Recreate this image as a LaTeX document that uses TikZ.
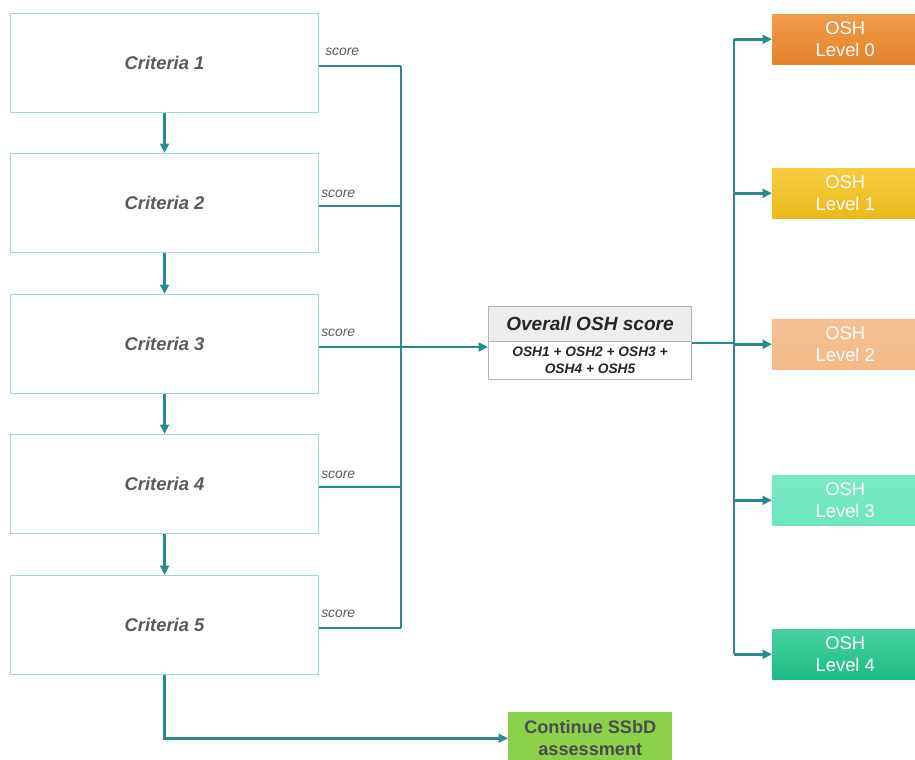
\documentclass[tikz,border=0pt]{standalone}
\usepackage{fontspec}
\setmainfont{Liberation Sans}
\usetikzlibrary{arrows.meta,calc}
\definecolor{teal1}{HTML}{2A8A8E}
\definecolor{critborder}{HTML}{A3D7D9}
\definecolor{txtgray}{HTML}{5A5A5A}
\definecolor{lv0}{HTML}{EF8A2C}
\definecolor{lv1}{HTML}{F6C31C}
\definecolor{lv2}{HTML}{F4BA86}
\definecolor{lv3}{HTML}{6CE6BF}
\definecolor{lv4}{HTML}{1CC689}
\definecolor{contg}{HTML}{8DD04C}
\begin{document}
\begin{tikzpicture}[x=0.75pt,y=-0.75pt,
  crit/.style={draw=critborder,line width=0.8pt,fill=white,minimum width=308*0.75pt,minimum height=99*0.75pt,inner sep=0pt,anchor=north west,text=txtgray,font=\fontsize{13.8}{16}\selectfont\bfseries\itshape},
  conn/.style={draw=teal1,line width=2pt},
  arr/.style={conn,-{Triangle[length=7pt,width=6.5pt]}},
  scorelbl/.style={anchor=south west,inner sep=0pt,text=txtgray,font=\fontsize{10.4}{12}\selectfont\itshape},
  lvl/.style={minimum width=146*0.75pt,minimum height=50*0.75pt,inner sep=0pt,anchor=north west,text=white,align=center,font=\fontsize{13.8}{16.5}\selectfont},
  ovbox/.style={draw=black!30,line width=0.8pt,minimum width=203*0.75pt,inner sep=0pt,anchor=north west,align=center}
]
\useasboundingbox (0,0) rectangle (915,760);
\fill[white] (0,0) rectangle (915,760);
% criteria boxes
\node[crit] (c1) at (10,13) {Criteria 1};
\node[crit] (c2) at (10,153) {Criteria 2};
\node[crit] (c3) at (10,294) {Criteria 3};
\node[crit] (c4) at (10,434) {Criteria 4};
\node[crit] (c5) at (10,575) {Criteria 5};
% vertical arrows between criteria
\draw[arr] (c1.south) -- (c2.north);
\draw[arr] (c2.south) -- (c3.north);
\draw[arr] (c3.south) -- (c4.north);
\draw[arr] (c4.south) -- (c5.north);
% overall box
\node[ovbox,fill=black!7,minimum height=35*0.75pt,font=\fontsize{14.3}{16}\selectfont\bfseries\itshape,text=black!85] (ovh) at (488,306) {Overall OSH score};
\node[ovbox,fill=white,minimum height=38*0.75pt,font=\fontsize{10.3}{12.5}\selectfont\bfseries\itshape,text=black!85] (ovb) at (488,341) {OSH1 + OSH2 + OSH3 +\\OSH4 + OSH5};
% score points and bus
\coordinate (busx) at (401,0);
\foreach \i in {1,...,5}{
  \coordinate (p\i) at ($(c\i.east)+(0,3)$);
  \coordinate (q\i) at (p\i -| busx);
}
\foreach \i in {1,2,4,5}{
  \draw[conn] (p\i) -- (q\i);
}
\draw[conn] (q1) -- (q5);
\draw[arr] (p3) -- (p3 -| ovh.west);
% score labels
\node[scorelbl] (s1) at (325,56) {score};
\node[scorelbl] (s2) at (321,198) {score};
\node[scorelbl] (s3) at (321,337) {score};
\node[scorelbl] (s4) at (321,479) {score};
\node[scorelbl] (s5) at (321,618) {score};
% level boxes
\node[lvl,top color=lv0!85!white,bottom color=lv0!95!black] (l0) at (772,14) {OSH\\Level 0};
\node[lvl,top color=lv1!85!white,bottom color=lv1!95!black] (l1) at (772,168) {OSH\\Level 1};
\node[lvl,top color=lv2!90!white,bottom color=lv2] (l2) at (772,319) {OSH\\Level 2};
\node[lvl,top color=lv3!90!white,bottom color=lv3] (l3) at (772,475) {OSH\\Level 3};
\node[lvl,top color=lv4!80!white,bottom color=lv4!95!black] (l4) at (772,629) {OSH\\Level 4};
% right bus
\coordinate (rbus) at (734,0);
\coordinate (ovout) at ($(ovh.south east)+(0,1)$);
\draw[conn] (ovout) -- (ovout -| rbus);
\draw[conn] (l0.west -| rbus) -- (l4.west -| rbus);
\foreach \i in {0,...,4}{
  \draw[arr] (l\i.west -| rbus) -- (l\i.west);
}
% continue box
\node[fill=contg,minimum width=164*0.75pt,minimum height=52*0.75pt,inner sep=0pt,anchor=north west,align=center,text=black!70,font=\fontsize{13.6}{16.5}\selectfont\bfseries] (cont) at (508,712) {Continue SSbD\\assessment};
\draw[arr] (c5.south) |- (cont.west);
\end{tikzpicture}
\end{document}
